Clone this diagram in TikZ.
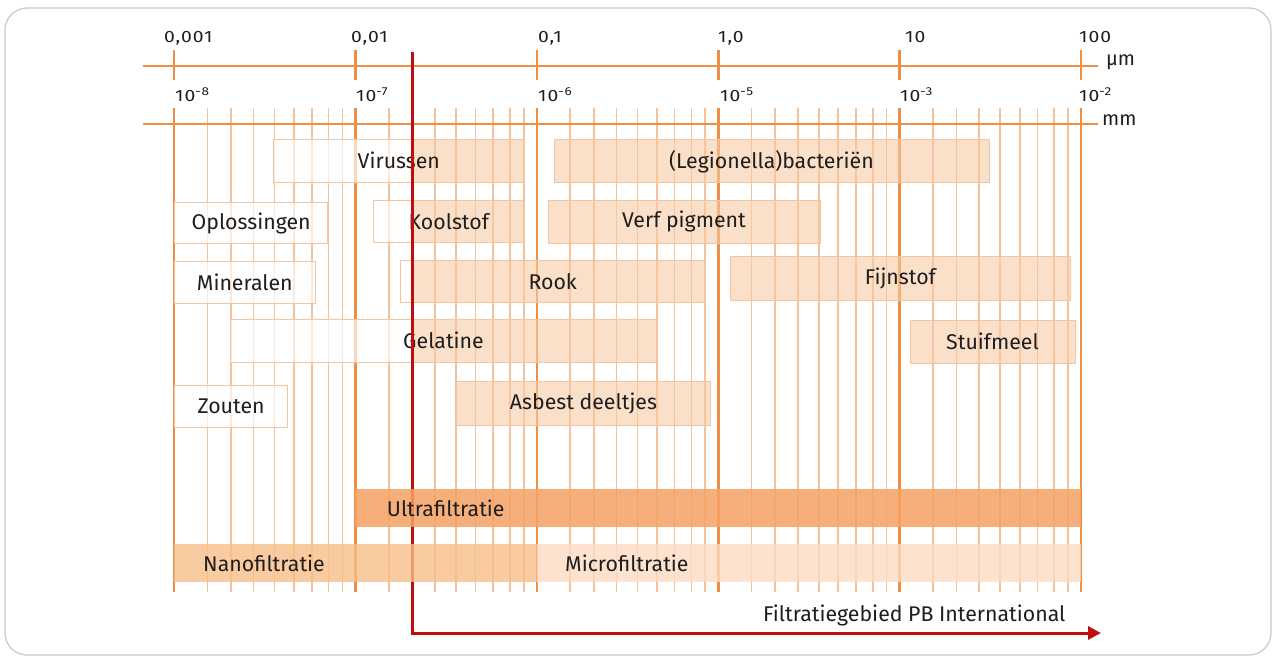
\documentclass[tikz,border=0pt]{standalone}
\usepackage{fontspec}
\setmainfont{Fira Sans}
\newfontfamily\numfont{Fira Sans}[FakeStretch=1.18, LetterSpace=6]
\usetikzlibrary{arrows.meta}
\definecolor{major}{HTML}{EF8F45}
\definecolor{minor}{HTML}{F5C29B}
\definecolor{peach}{HTML}{F7C9A5}
\definecolor{barborder}{HTML}{F5C4A0}
\definecolor{ultra}{HTML}{F5A264}
\definecolor{nano}{HTML}{F7BE88}
\definecolor{micro}{HTML}{FBDBC3}
\definecolor{pbred}{HTML}{C00D0D}
\definecolor{txt}{HTML}{1E1E1E}
\definecolor{framegray}{HTML}{C8C8C8}
\begin{document}
\begin{tikzpicture}[x=1pt,y=-1pt,
  lbl/.style={font=\fontsize{21.3}{24}\selectfont, text=txt},
  num/.style={font=\numfont\fontsize{16.4}{18}\selectfont, text=txt, inner sep=0pt, anchor=base west},
  unit/.style={font=\fontsize{20}{24}\selectfont, text=txt, inner sep=0pt, anchor=base west},
  bar/.style={lbl, draw=barborder, line width=0.9pt, inner sep=0pt},
  whitebar/.style={bar, fill=white, fill opacity=0.65, text opacity=1},
  peachbar/.style={bar, fill=peach, fill opacity=0.6, text opacity=1},
  twotone/.style={bar, path picture={
    \fill[white, opacity=0.65] (path picture bounding box.south west) rectangle (pb |- path picture bounding box.north);
    \fill[peach, opacity=0.6] (pb |- path picture bounding box.south) rectangle (path picture bounding box.north east);}},
  filt/.style={inner sep=0pt, minimum height=38pt, anchor=north west},
  majorline/.style={major, line width=2.6pt},
  minorline/.style={minor, line width=1.6pt},
  axisline/.style={major, line width=2.8pt},
]
\useasboundingbox (0,0) rectangle (1274,660);
% frame
\draw[framegray, line width=1.2pt, rounded corners=22pt] (5,8) rectangle (1271,655);
% grid
\foreach \d in {0,...,4}{
  \foreach \f in {0.184,0.314,0.439,0.555,0.662,0.760,0.852,0.928}{
    \draw[minorline] ({174+181.4*(\d+\f)},108) -- ({174+181.4*(\d+\f)},592);
  }
}
\foreach \d in {0,...,5}{
  \draw[majorline] ({174+181.4*\d},108) -- ({174+181.4*\d},592);
  \draw[majorline] ({174+181.4*\d},50) -- ({174+181.4*\d},80);
}
\draw[axisline] (143,66) -- (1098,66);
\draw[axisline] (143,124) -- (1098,124);
% axis labels
\node[num] (u1) at (164,42.5) {0,001};
\node[num] (u2) at (351,42.5) {0,01};
\node[num] (u3) at (538,42.5) {0,1};
\node[num] (u4) at (718,42.5) {1,0};
\node[num] (u5) at (905,42.5) {10};
\node[num] (u6) at (1079,42.5) {100};
\node[unit] (um) at (1106,66) {µm};
\node[num] (m1) at (175,102) {10\textsuperscript{-8}};
\node[num] (m2) at (356,102) {10\textsuperscript{-7}};
\node[num] (m3) at (538,102) {10\textsuperscript{-6}};
\node[num] (m4) at (720,102) {10\textsuperscript{-5}};
\node[num] (m5) at (900,102) {10\textsuperscript{-3}};
\node[num] (m6) at (1079,102) {10\textsuperscript{-2}};
\node[unit] (mm) at (1102,126) {mm};
\coordinate (pb) at (412.5,0);
% particle bars
\node[twotone, minimum width=251pt, minimum height=43pt] (virus) at (398.8,160.6) {Virussen};
\node[peachbar, minimum width=435pt, minimum height=43pt] (legio) at (771.5,161.4) {(Legionella)bacteriën};
\node[whitebar, minimum width=153.6pt, minimum height=40.6pt] (oplos) at (251.1,223) {Oplossingen};
\node[twotone, minimum width=151pt, minimum height=42.7pt] (kool) at (448.8,221.4) {Koolstof};
\node[peachbar, minimum width=272pt, minimum height=43pt] (verf) at (684,221.5) {Verf pigment};
\node[whitebar, minimum width=141pt, minimum height=41.6pt] (miner) at (244.8,282.5) {Mineralen};
\node[twotone, minimum width=305.4pt, minimum height=42.7pt] (rook) at (552.7,281.4) {Rook};
\node[peachbar, minimum width=339.3pt, minimum height=44pt] (fijn) at (900.3,278) {Fijnstof};
\node[twotone, minimum width=425.7pt, minimum height=43pt] (gela) at (443.5,340.8) {Gelatine};
\node[peachbar, minimum width=165pt, minimum height=43.3pt] (stuif) at (992.5,341.6) {Stuifmeel};
\node[whitebar, minimum width=113.6pt, minimum height=42.3pt] (zout) at (231.1,406.2) {Zouten};
\node[peachbar, minimum width=254.3pt, minimum height=43.3pt] (asb) at (583.5,403.4) {Asbest deeltjes};
% red PB line
\coordinate (rtop) at (412.5,52);
\coordinate (rbend) at (412.5,633);
\coordinate (rend) at (1101,633);
\draw[pbred, line width=3pt, -{Triangle[length=13pt,width=13pt]}] (rtop) -- (rbend) -- (rend);
% filtration bars
\node[filt, fill=ultra, fill opacity=0.86, minimum width=726pt] (ultra) at (355,489) {};
\node[filt, fill=nano, fill opacity=0.8, minimum width=363pt] (nano) at (174,544) {};
\node[filt, fill=micro, fill opacity=0.8, minimum width=544pt] (micro) at (537,544) {};
\node[lbl, anchor=west, inner sep=0pt] (ultratxt) at (386.7,508) {Ultrafiltratie};
\node[lbl, anchor=west, inner sep=0pt] (nanotxt) at (203,563) {Nanofiltratie};
\node[lbl, anchor=west, inner sep=0pt] (microtxt) at (565,563) {Microfiltratie};
\node[lbl, anchor=base west, inner sep=0pt] (pbtxt) at (763,621) {Filtratiegebied PB International};
\end{tikzpicture}
\end{document}
